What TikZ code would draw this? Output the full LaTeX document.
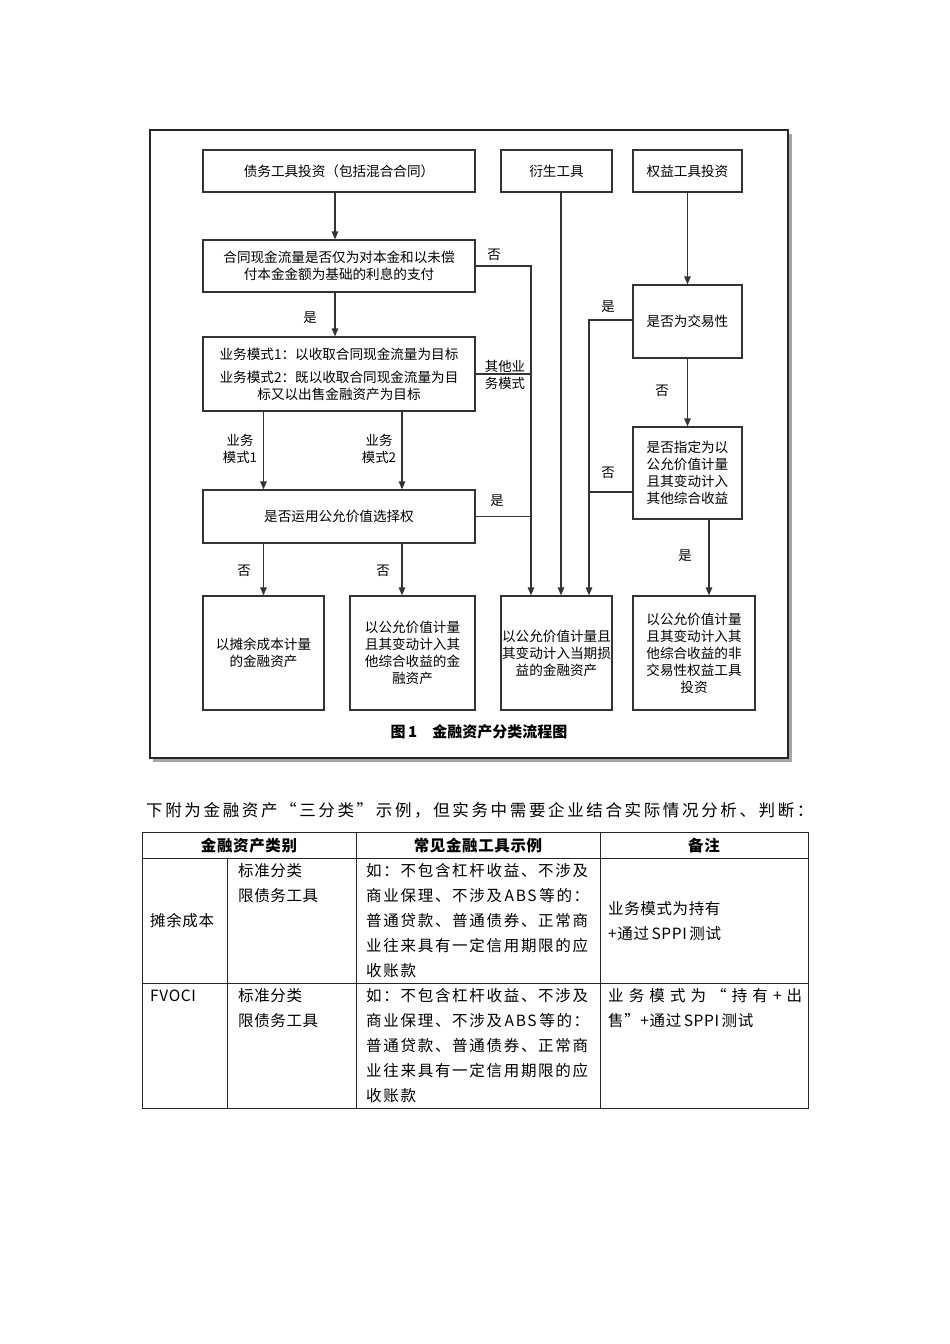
\documentclass[tikz,border=0pt]{standalone}
\usepackage{fontspec}
\setmainfont{Noto Sans CJK SC}
\usetikzlibrary{arrows.meta}
\newcommand\fsbox{\fontsize{13.6}{17}\selectfont}
\newcommand\fslbl{\fontsize{13.4}{16.5}\selectfont}
\newcommand\fstab{\fontsize{15.5}{25}\selectfont\addfontfeature{LetterSpace=4}}
\newcommand\fstabw{\fontsize{15.5}{25}\selectfont\addfontfeature{LetterSpace=11}}
\newcommand\fsintro{\fontsize{16.5}{20}\selectfont\addfontfeature{LetterSpace=16}}
\begin{document}
\begin{tikzpicture}[x=1pt,y=-1pt,
  fbox/.style={draw=black!80, line width=1.3pt, align=center, inner sep=0pt, font=\fsbox},
  arr/.style={line width=1.3pt, draw=black!80, -{Triangle[length=8pt,width=6.5pt]}},
  ln/.style={line width=1.3pt, draw=black!80},
  lbl/.style={font=\fslbl, inner sep=0pt, align=center},
  tline/.style={line width=0.9pt, draw=black!85},
  ttxt/.style={font=\fstab, inner sep=0pt, align=left, anchor=north west},
  twide/.style={font=\fstabw, inner sep=0pt, align=left, anchor=north west}]
\fill[white] (0,0) rectangle (950,1344);
\useasboundingbox (0,0) rectangle (950,1344);
% frame with shadow
\fill[black!35] (153,134) rectangle (792,762);
\draw[line width=2pt, draw=black!85, fill=white] (150,130) rectangle (788,758);
% boxes
\node[fbox, minimum width=272pt, minimum height=42pt] (A) at (339,171) {债务工具投资（包括混合合同）};
\node[fbox, minimum width=111pt, minimum height=42pt] (B) at (556.5,171) {衍生工具};
\node[fbox, minimum width=109pt, minimum height=42pt] (C) at (687.5,171) {权益工具投资};
\node[fbox, minimum width=272pt, minimum height=52pt] (D) at (339,266) {合同现金流量是否仅为对本金和以未偿\\付本金金额为基础的利息的支付};
\node[fbox, minimum width=272pt, minimum height=74pt] (E) at (339,374) {业务模式1：以收取合同现金流量为目标\\[6pt]业务模式2：既以收取合同现金流量为目\\标又以出售金融资产为目标};
\node[fbox, minimum width=109pt, minimum height=73pt] (F) at (687.5,321.5) {是否为交易性};
\node[fbox, minimum width=109pt, minimum height=92pt] (G) at (687.5,473) {是否指定为以\\公允价值计量\\且其变动计入\\其他综合收益};
\node[fbox, minimum width=272pt, minimum height=53pt] (H) at (339,516.5) {是否运用公允价值选择权};
\node[fbox, minimum width=121pt, minimum height=114pt] (H1) at (263.5,653) {以摊余成本计量\\的金融资产};
\node[fbox, minimum width=125pt, minimum height=114pt] (H2) at (412.5,653) {以公允价值计量\\且其变动计入其\\他综合收益的金\\融资产};
\node[fbox, minimum width=111pt, minimum height=114pt] (H3) at (556.5,653) {以公允价值计量且\\其变动计入当期损\\益的金融资产};
\node[fbox, minimum width=122pt, minimum height=114pt] (H4) at (694,653) {以公允价值计量\\且其变动计入其\\他综合收益的非\\交易性权益工具\\投资};
% junction coordinates
\coordinate (jl) at ([xshift=-25.5pt]H3.north);
\coordinate (jr) at ([xshift=32.5pt]H3.north);
% connectors
\draw[arr] ([xshift=-4pt]A.south) -- ([xshift=-4pt]D.north);
\draw[arr] ([xshift=-4pt]D.south) -- ([xshift=-4pt]E.north);
\draw[arr] (E.south -| H1.north) -- (H.north -| H1.north);
\draw[arr] ([xshift=-10.5pt]E.south -| H2.north) -- ([xshift=-10.5pt]H.north -| H2.north);
\draw[arr] (H.south -| H1.north) -- (H1.north);
\draw[arr] ([xshift=-10.5pt]H.south -| H2.north) -- ([xshift=-10.5pt]H2.north);
\draw[arr] (D.east) -| (jl);
\draw[ln] (E.east) -- (E.east -| jl);
\draw[ln] (H.east) -- (H.east -| jl);
\draw[arr] ([xshift=4.5pt]B.south) -- ([xshift=4.5pt]H3.north);
\draw[arr] (C.south) -- (F.north);
\draw[arr] (F.south) -- (G.north);
\draw[arr] ([yshift=1.5pt]F.west) -| (jr);
\draw[ln] ([yshift=-19pt]G.west) -- ([yshift=-19pt]G.west -| jr);
\draw[arr] ([xshift=21.5pt]G.south) -- ([xshift=21.5pt]G.south |- H4.north);
% labels
\node[lbl] (l1) at (494,255) {否};
\node[lbl] (l2) at (310,318) {是};
\node[lbl] (l3) at (505,375) {其他业\\务模式};
\node[lbl] (l4) at (240,449) {业务\\模式1};
\node[lbl] (l5) at (379,449) {业务\\模式2};
\node[lbl] (l6) at (608,307) {是};
\node[lbl] (l7) at (662,391) {否};
\node[lbl] (l8) at (608,473) {否};
\node[lbl] (l9) at (497,501) {是};
\node[lbl] (l10) at (244,571) {否};
\node[lbl] (l11) at (383,571) {否};
\node[lbl] (l12) at (685,556) {是};
\node[inner sep=0pt, font=\fontsize{15}{16}\selectfont\bfseries] (cap) at (479,732) {图\,1\hspace{1em}金融资产分类流程图};
% intro line
\node[inner sep=0pt, anchor=west, font=\fsintro] (intro) at (146,810) {下附为金融资产“三分类”示例，但实务中需要企业结合实际情况分析、判断：};
% table
\draw[tline] (142,832) rectangle (808,1108);
\draw[tline] (142,858) -- (808,858);
\draw[tline] (142,983) -- (808,983);
\draw[tline] (227,858) -- (227,1108);
\draw[tline] (356,832) -- (356,1108);
\draw[tline] (600,832) -- (600,1108);
\node[inner sep=0pt, font=\fstab\bfseries] (h1) at (249,846) {金融资产类别};
\node[inner sep=0pt, font=\fstab\bfseries] (h2) at (478,846) {常见金融工具示例};
\node[inner sep=0pt, font=\fstab\bfseries] (h3) at (704,846) {备注};
% row 1
\node[inner sep=0pt, anchor=west, font=\fstab] (r1a) at (150,921) {摊余成本};
\node[ttxt] (r1b) at (238,863.3) {标准分类\\限债务工具};
\node[twide] (r1c) at (366,863.3) {如：不包含杠杆收益、不涉及\\商业保理、不涉及\,ABS\,等的：\\普通贷款、普通债券、正常商\\业往来具有一定信用期限的应\\收账款};
\node[ttxt] (r1d) at (608,901.3) {业务模式为持有\\+通过\,SPPI\,测试};
% row 2
\node[inner sep=0pt, anchor=west, font=\fstab] (r2a) at (150,996) {FVOCI};
\node[ttxt] (r2b) at (238,988.3) {标准分类\\限债务工具};
\node[twide] (r2c) at (366,988.3) {如：不包含杠杆收益、不涉及\\商业保理、不涉及\,ABS\,等的：\\普通贷款、普通债券、正常商\\业往来具有一定信用期限的应\\收账款};
\node[ttxt] (r2d) at (608,988.3) {\hbox to 194pt{业\hfill 务\hfill 模\hfill 式\hfill 为\hfill “\hfill 持\hfill 有\hfill +\hfill 出}\\售”+通过\,SPPI\,测试};
\end{tikzpicture}
\end{document}
